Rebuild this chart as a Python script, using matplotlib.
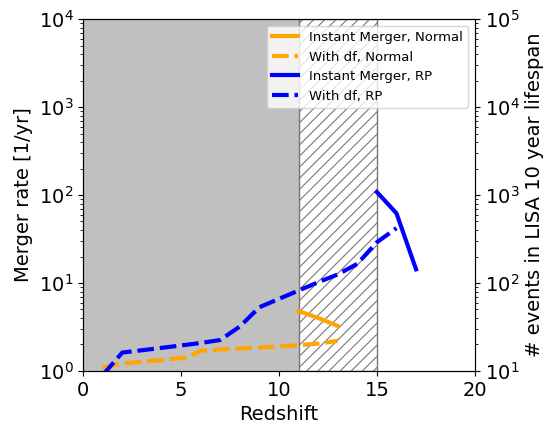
import matplotlib
matplotlib.use("Agg")
import matplotlib.pyplot as plt
import numpy as np

# Data
z_inst_normal = [11, 12, 13]
rate_inst_normal = [4.8, 4.0, 3.25]

z_df_normal = [1, 2, 3, 4, 5, 5.4, 6, 7, 8, 9, 10, 11, 12, 13]
rate_df_normal = [1.1, 1.22, 1.27, 1.33, 1.4, 1.45, 1.7, 1.76, 1.8, 1.85, 1.9, 1.96, 2.05, 2.2]

z_inst_rp = [15, 16, 17]
rate_inst_rp = [108, 62, 14.3]

z_df_rp = [1, 2, 3, 4, 5, 6, 7, 8, 9, 10, 11, 12, 13, 14, 15, 16]
rate_df_rp = [0.9, 1.62, 1.72, 1.83, 1.95, 2.08, 2.25, 3.2, 5.3, 6.6, 8.2, 10.2, 12.5, 16.5, 29, 42]

plt.rcParams['hatch.linewidth'] = 0.8
plt.rcParams['hatch.color'] = '#777777'

fig = plt.figure(figsize=(5.47, 4.23), dpi=100)
ax = fig.add_axes([0.152, 0.123, 0.716, 0.832])

ax.axvspan(0, 11, facecolor='#c0c0c0', edgecolor='none', zorder=0)
ax.axvspan(11, 15, facecolor='white', edgecolor='#777777', hatch='///', linewidth=1.0, zorder=0)

dash = (4.0, 1.4)
ax.plot(z_inst_normal, rate_inst_normal, color='orange', lw=3, ls='-', label='Instant Merger, Normal')
ax.plot(z_df_normal, rate_df_normal, color='orange', lw=3, ls='--', dashes=dash, label='With df, Normal')
ax.plot(z_inst_rp, rate_inst_rp, color='blue', lw=3, ls='-', label='Instant Merger, RP')
ax.plot(z_df_rp, rate_df_rp, color='blue', lw=3, ls='--', dashes=dash, label='With df, RP')

ax.set_yscale('log')
ax.set_ylim(1, 1e4)
ax.set_xlim(0, 20)
ax.set_xticks([0, 5, 10, 15, 20])
ax.tick_params(labelsize=14)
ax.set_xlabel('Redshift', fontsize=14)
ax.set_ylabel('Merger rate [1/yr]', fontsize=14)
ax.legend(loc='upper right', fontsize=9.5)

ax2 = ax.twinx()
ax2.set_yscale('log')
ax2.set_ylim(10, 1e5)
ax2.tick_params(labelsize=14)
ax2.set_ylabel('# events in LISA 10 year lifespan', fontsize=14)

fig.savefig('out.png', dpi=100)
